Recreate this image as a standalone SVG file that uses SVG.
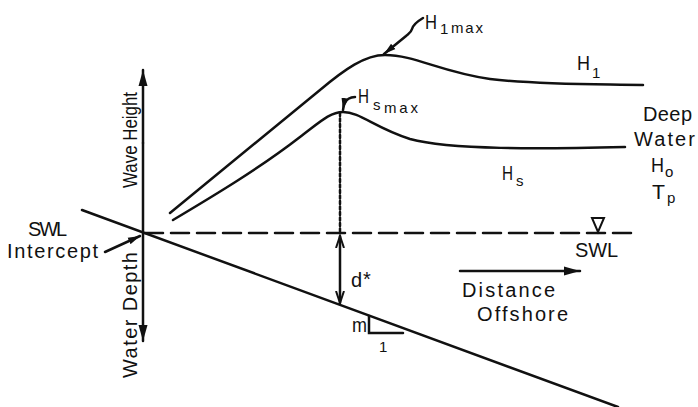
<svg xmlns="http://www.w3.org/2000/svg" width="698" height="407" viewBox="0 0 698 407">
<defs>
<marker id="ah" markerUnits="userSpaceOnUse" markerWidth="18" markerHeight="12" refX="16" refY="6" orient="auto">
<path d="M0,1.5 L16,6 L0,10.5 Z" fill="#111"/>
</marker>
<marker id="ahs" markerUnits="userSpaceOnUse" markerWidth="14" markerHeight="10" refX="12" refY="5" orient="auto">
<path d="M0,1.5 L12,5 L0,8.5 Z" fill="#111"/>
</marker>
<marker id="ahv" markerUnits="userSpaceOnUse" markerWidth="14" markerHeight="10" refX="12" refY="5" orient="auto-start-reverse">
<path d="M0,1 L12,5 L0,9" fill="none" stroke="#111" stroke-width="2"/>
</marker>
</defs>
<style>
.ln{fill:none;stroke:#111;stroke-width:2.5;stroke-linecap:round}
.t{font-family:"Liberation Sans",Arial,sans-serif;font-size:20px;fill:#111}
.s{font-family:"Liberation Sans",Arial,sans-serif;font-size:15px;fill:#111}
</style>
<rect width="698" height="407" fill="#fff"/>
<g id="connectors">
<line class="ln" x1="143" y1="143" x2="143" y2="70" marker-end="url(#ah)"/>
<line class="ln" x1="143" y1="143" x2="143" y2="341" marker-end="url(#ah)"/>
<line class="ln" x1="82" y1="210" x2="618" y2="407" stroke-width="3"/>
<line class="ln" x1="145" y1="233" x2="637" y2="233" stroke-dasharray="18 8" stroke-linecap="butt"/>
<line class="ln" x1="105" y1="252" x2="140" y2="236" stroke-width="2" marker-end="url(#ahs)"/>
<path class="ln" d="M170,213 L320,90 C345,69 365,55 385,55 C415,55 440,72 490,79 C540,85 600,84 643,85"/>
<path class="ln" d="M173,220 C215,195 260,168 300,137 C320,122 330,112 343,112 C360,112 375,128 410,139 C450,150 540,149 625,147"/>
<line class="ln" x1="340" y1="113" x2="340" y2="232" stroke-dasharray="3 2.5" stroke-linecap="butt" stroke-width="2.2"/>
<line class="ln" x1="340" y1="236" x2="340" y2="303" stroke-width="2" marker-start="url(#ahv)" marker-end="url(#ahv)"/>
<path class="ln" d="M423,18 C418,21 413,25 412,29 C411,33 408,34 406,36 L384,54" stroke-width="2" marker-end="url(#ahs)"/>
<path class="ln" d="M355,97 C350,97 346,100 344,104 L343,110" stroke-width="2" marker-end="url(#ahs)"/>
<line class="ln" x1="460" y1="271" x2="580" y2="271" stroke-width="2" marker-end="url(#ah)"/>
<path class="ln" d="M369,316 L369,333 L403,333" stroke-width="2" stroke-linecap="butt"/>
<path d="M592,218 L604,218 L598,232 Z" fill="none" stroke="#111" stroke-width="2"/>
</g>
<g id="labels">
<text class="t" x="137" y="140" transform="rotate(-90 137 140)" text-anchor="middle" font-size="19" textLength="96" lengthAdjust="spacingAndGlyphs">Wave Height</text>
<text class="t" x="137" y="315" transform="rotate(-90 137 315)" text-anchor="middle" font-size="19" textLength="126" lengthAdjust="spacing">Water Depth</text>
<text class="t" x="28" y="236" font-size="18" textLength="39" lengthAdjust="spacing">SWL</text>
<text class="t" x="7" y="258" font-size="18" textLength="91" lengthAdjust="spacing">Intercept</text>
<text class="t" x="425" y="29" textLength="12" lengthAdjust="spacingAndGlyphs">H</text>
<text class="s" x="440" y="34" font-size="16">1</text>
<text class="s" x="451" y="33" textLength="32" lengthAdjust="spacing">max</text>
<text class="t" x="358" y="103" textLength="11" lengthAdjust="spacingAndGlyphs">H</text>
<text class="s" x="373" y="110">s</text>
<text class="s" x="384" y="113" textLength="34" lengthAdjust="spacing" font-size="16">max</text>
<text class="t" x="577" y="70" textLength="13" lengthAdjust="spacingAndGlyphs">H</text>
<text class="s" x="592" y="78">1</text>
<text class="t" x="502" y="180" textLength="11" lengthAdjust="spacingAndGlyphs">H</text>
<text class="s" x="516" y="186">s</text>
<text class="t" x="643" y="121" textLength="49" lengthAdjust="spacing">Deep</text>
<text class="t" x="634" y="146" textLength="61" lengthAdjust="spacing">Water</text>
<text class="t" x="651" y="172" textLength="13" lengthAdjust="spacingAndGlyphs">H</text>
<text class="s" x="665" y="177">o</text>
<text class="t" x="652" y="199" textLength="13" lengthAdjust="spacingAndGlyphs">T</text>
<text class="s" x="667" y="203">p</text>
<text class="t" x="575" y="257" textLength="43" lengthAdjust="spacing">SWL</text>
<text class="t" x="351" y="287" font-size="21">d</text>
<text class="t" x="363" y="286" font-size="34">*</text>
<text class="t" x="462" y="297" font-size="21" textLength="93" lengthAdjust="spacing">Distance</text>
<text class="t" x="477" y="321" font-size="21" textLength="91" lengthAdjust="spacing">Offshore</text>
<text class="t" x="352" y="332" textLength="15" lengthAdjust="spacingAndGlyphs">m</text>
<text class="s" x="379" y="352" font-size="16">1</text>
</g>
</svg>
